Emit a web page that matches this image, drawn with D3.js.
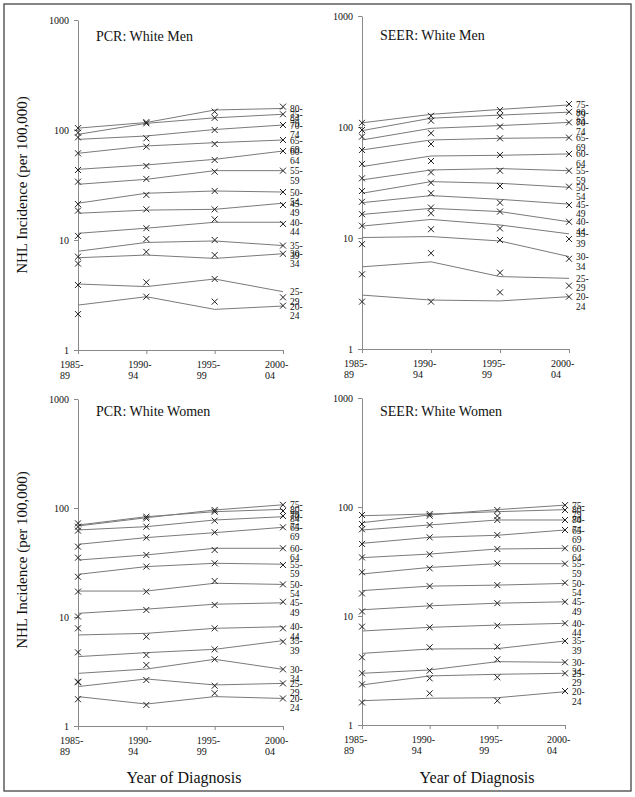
<!DOCTYPE html>
<html><head><meta charset="utf-8">
<script src="https://cdn.jsdelivr.net/npm/d3@7"></script>
<style>
html,body{margin:0;padding:0;background:#fff;}
svg text{font-family:"Liberation Serif","Times New Roman",serif;fill:#111;}
</style></head>
<body>
<svg id="chart" width="635" height="797"></svg>
<script>
// ---------------- DATA ----------------
const categories = ["1985-89", "1990-94", "1995-99", "2000-04"];
const ageGroups = ["20-24","25-29","30-34","35-39","40-44","45-49","50-54","55-59","60-64","65-69","70-74","75-79","80-84"];
const yTicks = [1, 10, 100, 1000];
const panelTitles = ["PCR: White Men", "SEER: White Men", "PCR: White Women", "SEER: White Women"];
const yAxisTitle = "NHL Incidence (per 100,000)";
const xAxisTitle = "Year of Diagnosis";

// fitted (lines), rows follow ageGroups, columns follow categories
const pcrMenFitted = [
  [2.56, 3.05, 2.34, 2.51],
  [3.98, 3.77, 4.42, 3.39],
  [6.9, 7.3, 6.8, 7.5],
  [7.9, 9.5, 9.8, 8.9],
  [11.5, 12.8, 14.5, 14.5],
  [17.5, 18.7, 19.0, 21.6],
  [21.6, 26.6, 27.9, 27.3],
  [32.1, 35.6, 42.7, 42.7],
  [43.9, 48.1, 54.1, 64.4],
  [61.4, 71.6, 76.7, 81.1],
  [82.2, 88.2, 101, 111],
  [91.3, 115, 129, 139],
  [104, 117, 152, 157]
];
const pcrMenObserved = [
  [2.12, 3.05, 2.75, 2.53],
  [3.90, 4.12, 4.42, 3.01],
  [6.1, 7.8, 7.3, 7.5],
  [7.05, 10.2, 10.0, 8.9],
  [10.9, 12.8, 15.4, 14.0],
  [18.5, 19.0, 19.0, 20.8],
  [21.2, 25.7, 27.9, 27.3],
  [33.9, 35.9, 41.8, 42.7],
  [43.3, 47.1, 53.4, 64.4],
  [61.4, 70.5, 74.6, 81.1],
  [85.7, 84.0, 100, 111],
  [94.6, 115, 129, 139],
  [104, 118, 147, 163]
];
const seerMenFitted = [
  [3.06, 2.76, 2.71, 2.96],
  [5.5, 6.1, 4.49, 4.33],
  [10.1, 10.3, 9.4, 6.8],
  [12.8, 14.7, 13.1, 10.9],
  [16.3, 18.5, 17.3, 14.0],
  [20.8, 24.1, 22.3, 20.2],
  [25.3, 32.2, 31.1, 28.6],
  [33.4, 41.0, 42.2, 40.4],
  [44.0, 54.8, 55.6, 57.2],
  [62.1, 76.4, 79.1, 80.2],
  [76.4, 97.3, 103, 110],
  [109, 130, 144, 158],
  [92.7, 120, 128, 136]
];
const seerMenObserved = [
  [2.67, 2.67, 3.24, 2.96],
  [4.71, 7.3, 4.87, 3.72],
  [8.8, 12.0, 9.6, 6.5],
  [12.9, 16.7, 12.2, 9.8],
  [16.4, 18.8, 17.3, 14.0],
  [21.2, 25.3, 20.8, 19.8],
  [26.5, 31.5, 29.4, 29.0],
  [34.5, 39.0, 40.4, 40.4],
  [46.5, 49.4, 56.0, 57.2],
  [62.1, 70.3, 79.1, 80.2],
  [81.9, 87.9, 101, 110],
  [109, 126, 142, 161],
  [94.0, 114, 126, 137]
];
const pcrWomenFitted = [
  [1.86, 1.59, 1.86, 1.79],
  [2.30, 2.70, 2.38, 2.46],
  [3.04, 3.33, 4.09, 3.31],
  [4.33, 4.71, 5.05, 6.07],
  [6.84, 7.08, 7.87, 8.15],
  [10.8, 11.8, 13.1, 13.5],
  [17.3, 17.3, 20.4, 19.9],
  [24.6, 29.0, 31.1, 30.5],
  [33.3, 37.1, 42.7, 42.7],
  [46.4, 53.5, 59.4, 66.5],
  [62.9, 67.4, 77.6, 83.2],
  [68.4, 81.4, 95.9, 107],
  [69.8, 83.2, 92.5, 97.2]
];
const pcrWomenObserved = [
  [1.76, 1.56, 2.0, 1.79],
  [2.52, 2.64, 2.34, 2.46],
  [2.55, 3.63, 4.09, 3.31],
  [4.74, 4.48, 5.05, 5.94],
  [7.87, 6.60, 7.87, 7.87],
  [10.1, 11.6, 12.9, 13.8],
  [17.1, 17.1, 21.4, 19.9],
  [23.4, 29.0, 31.1, 30.0],
  [35.0, 37.1, 41.2, 42.7],
  [44.2, 53.5, 59.8, 66.5],
  [62.0, 67.4, 76.5, 84.5],
  [67.4, 80.3, 92.5, 107],
  [72.3, 83.2, 95.9, 93.8]
];
const seerWomenFitted = [
  [1.67, 1.76, 1.78, 2.02],
  [2.33, 2.82, 2.92, 2.98],
  [2.98, 3.20, 3.81, 3.76],
  [4.54, 4.98, 5.02, 5.90],
  [7.28, 7.87, 8.26, 8.57],
  [11.4, 12.4, 13.1, 13.5],
  [17.1, 18.8, 19.2, 19.9],
  [24.3, 27.9, 30.2, 30.2],
  [34.3, 37.0, 41.2, 41.8],
  [46.4, 52.7, 55.0, 61.5],
  [61.5, 68.4, 76.0, 76.0],
  [71.8, 84.5, 94.6, 104],
  [83.2, 86.2, 90.6, 94.6]
];
const seerWomenObserved = [
  [1.61, 1.95, 1.67, 2.05],
  [2.36, 2.68, 2.74, 2.98],
  [2.98, 3.15, 4.00, 3.76],
  [4.18, 5.16, 5.23, 5.90],
  [7.98, 7.87, 8.15, 8.57],
  [11.0, 12.4, 13.1, 13.5],
  [16.1, 18.8, 19.2, 20.2],
  [25.2, 27.4, 30.4, 30.2],
  [34.5, 36.8, 41.2, 41.8],
  [45.8, 52.7, 55.3, 61.5],
  [62.4, 68.4, 76.0, 76.0],
  [69.8, 86.2, 93.8, 104],
  [84.5, 83.2, 82.6, 93.8]
];

// ---------------- LAYOUT ----------------
const layout = [
  {x0: 78,  x1: 283, yTop: 20,  yBot: 350, tx: 96,  ty: 41},
  {x0: 362, x1: 569, yTop: 16,  yBot: 349, tx: 380, ty: 40},
  {x0: 78,  x1: 283, yTop: 399, yBot: 726, tx: 96,  ty: 416},
  {x0: 362, x1: 565, yTop: 398, yBot: 725, tx: 380, ty: 416}
];
const fittedSets = [pcrMenFitted, seerMenFitted, pcrWomenFitted, seerWomenFitted];
const observedSets = [pcrMenObserved, seerMenObserved, pcrWomenObserved, seerWomenObserved];

const svg = d3.select("#chart");
svg.append("rect").attr("x", 4).attr("y", 4).attr("width", 627).attr("height", 787)
  .attr("fill", "none").attr("stroke", "#444").attr("stroke-width", 1.3);

const axisColor = "#8a8a8a";
const lineColor = "#7a7a7a";
const markColor = "#222";

layout.forEach((L, p) => {
  const g = svg.append("g");
  const x = d3.scalePoint().domain(categories).range([L.x0, L.x1]);
  const y = d3.scaleLog().domain([1, 1000]).range([L.yBot, L.yTop]);

  // y axis
  const ya = g.append("g").attr("transform", `translate(${L.x0},0)`)
    .call(d3.axisLeft(y).tickValues(yTicks).tickFormat(d3.format("d")).tickSize(4).tickSizeOuter(0).tickPadding(5));
  ya.select(".domain").attr("stroke", axisColor);
  ya.selectAll(".tick line").attr("stroke", axisColor);
  ya.selectAll(".tick text").attr("font-size", 10).attr("font-family", "Liberation Serif").attr("fill", "#111");

  // x axis
  const xa = g.append("g").attr("transform", `translate(0,${L.yBot})`)
    .call(d3.axisBottom(x).tickSize(4).tickSizeOuter(0).tickFormat(""));
  xa.select(".domain").attr("stroke", axisColor);
  xa.selectAll(".tick line").attr("stroke", axisColor);
  categories.forEach(c => {
    const parts = c.split("-");
    const t = g.append("text").attr("x", x(c) - 18).attr("y", L.yBot + 17.5)
      .attr("font-size", 10);
    t.append("tspan").attr("x", x(c) - 18).text(parts[0] + "-");
    t.append("tspan").attr("x", x(c) - 18).attr("dy", 11).text(parts[1]);
  });

  // title
  g.append("text").attr("x", L.tx).attr("y", L.ty).attr("font-size", 14).text(panelTitles[p]);

  const fitted = fittedSets[p], observed = observedSets[p];
  const line = d3.line().x((d, i) => x(categories[i])).y(d => y(d));

  // lines
  g.selectAll("path.fit").data(fitted).join("path").attr("class", "fit")
    .attr("d", line).attr("fill", "none").attr("stroke", lineColor).attr("stroke-width", 1);

  // markers
  const s = 3;
  observed.forEach(row => {
    row.forEach((v, i) => {
      const cx = x(categories[i]), cy = y(v);
      g.append("path")
        .attr("d", `M${cx - s},${cy - s}L${cx + s},${cy + s}M${cx - s},${cy + s}L${cx + s},${cy - s}`)
        .attr("stroke", markColor).attr("stroke-width", 1).attr("fill", "none");
    });
  });

  // end labels
  fitted.forEach((row, k) => {
    const parts = ageGroups[k].split("-");
    const cx = x(categories[3]) + 7, cy = y(row[3]);
    const t = g.append("text").attr("x", cx).attr("y", cy + 3.5).attr("font-size", 9.5);
    t.append("tspan").attr("x", cx).text(parts[0] + "-");
    t.append("tspan").attr("x", cx).attr("dy", 9.5).text(parts[1]);
  });
});

// axis titles
[185, 560].forEach(cy => {
  svg.append("text").attr("transform", `translate(27,${cy}) rotate(-90)`)
    .attr("text-anchor", "middle").attr("font-size", 15).text(yAxisTitle);
});
[184, 477].forEach(cx => {
  svg.append("text").attr("x", cx).attr("y", 783).attr("text-anchor", "middle")
    .attr("font-size", 16).text(xAxisTitle);
});
</script>
</body></html>
